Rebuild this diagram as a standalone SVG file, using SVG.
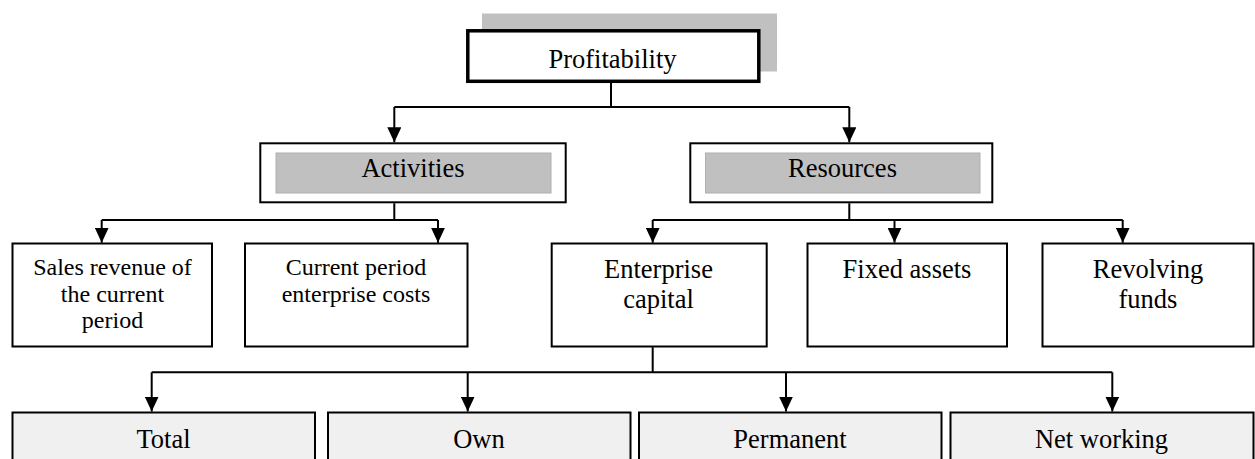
<svg xmlns="http://www.w3.org/2000/svg" width="1255" height="459" viewBox="0 0 1255 459">
<defs>
<marker id="ah" markerWidth="15" markerHeight="14" refX="15" refY="7" orient="auto" markerUnits="userSpaceOnUse" viewBox="0 0 15 14">
<path d="M0,0 L15,7 L0,14 Z" fill="#000"/>
</marker>
<style>
.t{font-family:"Liberation Serif","Times New Roman",serif;font-size:26.5px;fill:#000;text-anchor:middle}
.s{font-size:24px}
.box{fill:#fff;stroke:#000;stroke-width:2}
.gbox{fill:#f0f0f0;stroke:#000;stroke-width:2}
.inner{fill:#c0c0c0;stroke:#b0b0b0;stroke-width:1}
.c{fill:none;stroke:#000;stroke-width:2}
.a{marker-end:url(#ah)}
</style>
</defs>
<rect width="1255" height="459" fill="#fff"/>

<g id="profitability">
<rect x="482" y="13.5" width="295" height="58" fill="#c0c0c0"/>
<rect x="467.8" y="30.8" width="291" height="50.5" fill="#fff" stroke="#000" stroke-width="3.5"/>
<text class="t" x="612.5" y="68">Profitability</text>
</g>

<g id="activities">
<rect class="box" x="260.3" y="143.3" width="305.4" height="59"/>
<rect class="inner" x="276" y="153" width="275" height="40"/>
<text class="t" x="413" y="176.7">Activities</text>
</g>

<g id="resources">
<rect class="box" x="690.3" y="143.3" width="302" height="59"/>
<rect class="inner" x="705.5" y="153" width="274.5" height="40"/>
<text class="t" x="842.5" y="176.7">Resources</text>
</g>

<g id="sales">
<rect class="box" x="12.5" y="243.5" width="199.5" height="103"/>
<text class="t s" x="112.5" y="275">Sales revenue of</text>
<text class="t s" x="112.5" y="301.7">the current</text>
<text class="t s" x="112.5" y="328.3">period</text>
</g>

<g id="costs">
<rect class="box" x="245" y="243.5" width="222.5" height="103"/>
<text class="t s" x="356" y="275">Current period</text>
<text class="t s" x="356" y="301.7">enterprise costs</text>
</g>

<g id="capital">
<rect class="box" x="551.7" y="243.5" width="215" height="103"/>
<text class="t" x="658.5" y="278.3">Enterprise</text>
<text class="t" x="658.5" y="308.3">capital</text>
</g>

<g id="fixed">
<rect class="box" x="807.5" y="243.5" width="199.5" height="103"/>
<text class="t" x="907" y="278.3">Fixed assets</text>
</g>

<g id="revolving">
<rect class="box" x="1042.5" y="243.5" width="211" height="103"/>
<text class="t" x="1148" y="278.3">Revolving</text>
<text class="t" x="1148" y="308.3">funds</text>
</g>

<g id="total">
<rect class="gbox" x="12.5" y="412.5" width="302.5" height="60"/>
<text class="t" x="163.5" y="448.3">Total</text>
</g>

<g id="own">
<rect class="gbox" x="328" y="412.5" width="302.5" height="60"/>
<text class="t" x="479" y="448.3">Own</text>
</g>

<g id="permanent">
<rect class="gbox" x="639" y="412.5" width="302.5" height="60"/>
<text class="t" x="790" y="448.3">Permanent</text>
</g>

<g id="networking">
<rect class="gbox" x="950.5" y="412.5" width="303" height="60"/>
<text class="t" x="1101.5" y="448.3">Net working</text>
</g>

<g id="connectors">
<path class="c" d="M611,82.5 V107 M394.3,107 H849.3"/>
<path class="c a" d="M394.3,107 V142.3"/>
<path class="c a" d="M849.3,107 V142.3"/>
<path class="c" d="M394.3,203.3 V220 M101.7,220 H438"/>
<path class="c a" d="M101.7,220 V242.7"/>
<path class="c a" d="M438,220 V242.7"/>
<path class="c" d="M849.3,203.3 V220 M652.7,220 H1122.7"/>
<path class="c a" d="M652.7,220 V242.7"/>
<path class="c a" d="M894.5,220 V242.7"/>
<path class="c a" d="M1122.7,220 V242.7"/>
<path class="c" d="M652.7,347.3 V372.3 M151.7,372.3 H1112.3"/>
<path class="c a" d="M151.7,372.3 V411.5"/>
<path class="c a" d="M467.7,372.3 V411.5"/>
<path class="c a" d="M786,372.3 V411.5"/>
<path class="c a" d="M1112.3,372.3 V411.5"/>
</g>
</svg>
